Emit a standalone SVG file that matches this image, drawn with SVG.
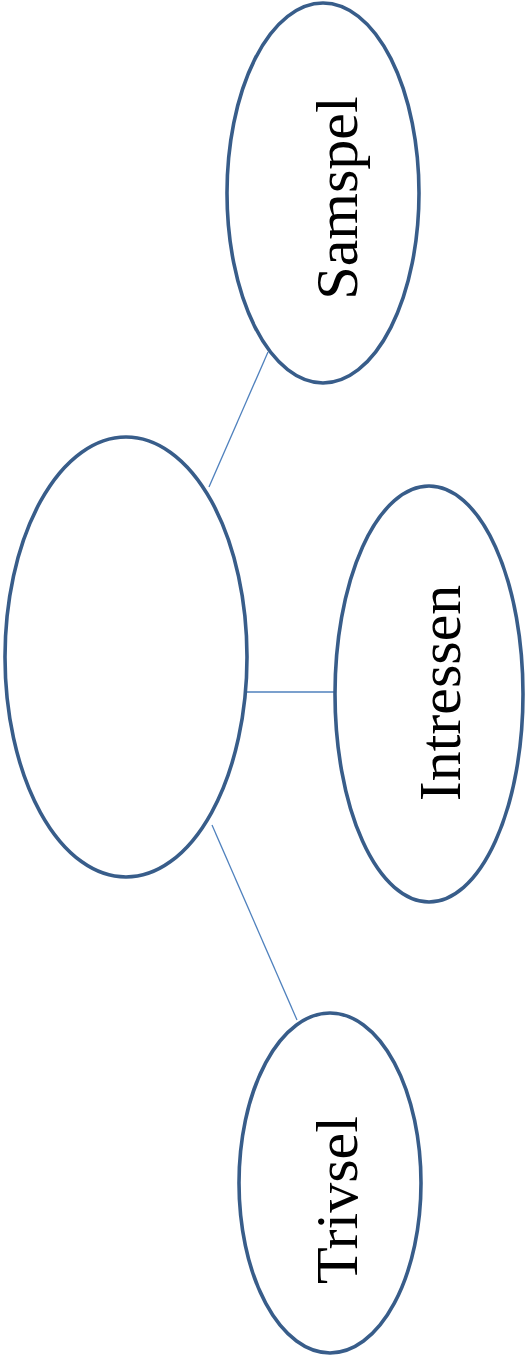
<svg xmlns="http://www.w3.org/2000/svg" width="530" height="1357" viewBox="0 0 530 1357">
<style>
.node{fill:#ffffff;stroke:#385D8A;stroke-width:3.6}
.edge{stroke:#4F81BD;stroke-width:1.3;fill:none}
.lbl{font-family:"Liberation Serif","Times New Roman",serif;font-size:60px;fill:#000000;text-anchor:middle}
</style>
<rect width="530" height="1357" fill="#ffffff"/>
<g id="connectors">
<line class="edge" x1="268" y1="352" x2="209" y2="487"/>
<line class="edge" x1="247" y1="692" x2="334" y2="692"/>
<line class="edge" x1="212" y1="825" x2="297" y2="1020"/>
</g>
<g id="center">
<ellipse class="node" cx="126" cy="657" rx="121" ry="220"/>
</g>
<g id="samspel">
<ellipse class="node" cx="323" cy="193" rx="96" ry="190"/>
<text class="lbl" transform="translate(357,198) rotate(-90)">Samspel</text>
</g>
<g id="intressen">
<ellipse class="node" cx="429" cy="694" rx="94" ry="208"/>
<text class="lbl" transform="translate(460,693) rotate(-90)">Intressen</text>
</g>
<g id="trivsel">
<ellipse class="node" cx="330" cy="1183" rx="91" ry="170"/>
<text class="lbl" transform="translate(357,1200) rotate(-90)">Trivsel</text>
</g>
</svg>
